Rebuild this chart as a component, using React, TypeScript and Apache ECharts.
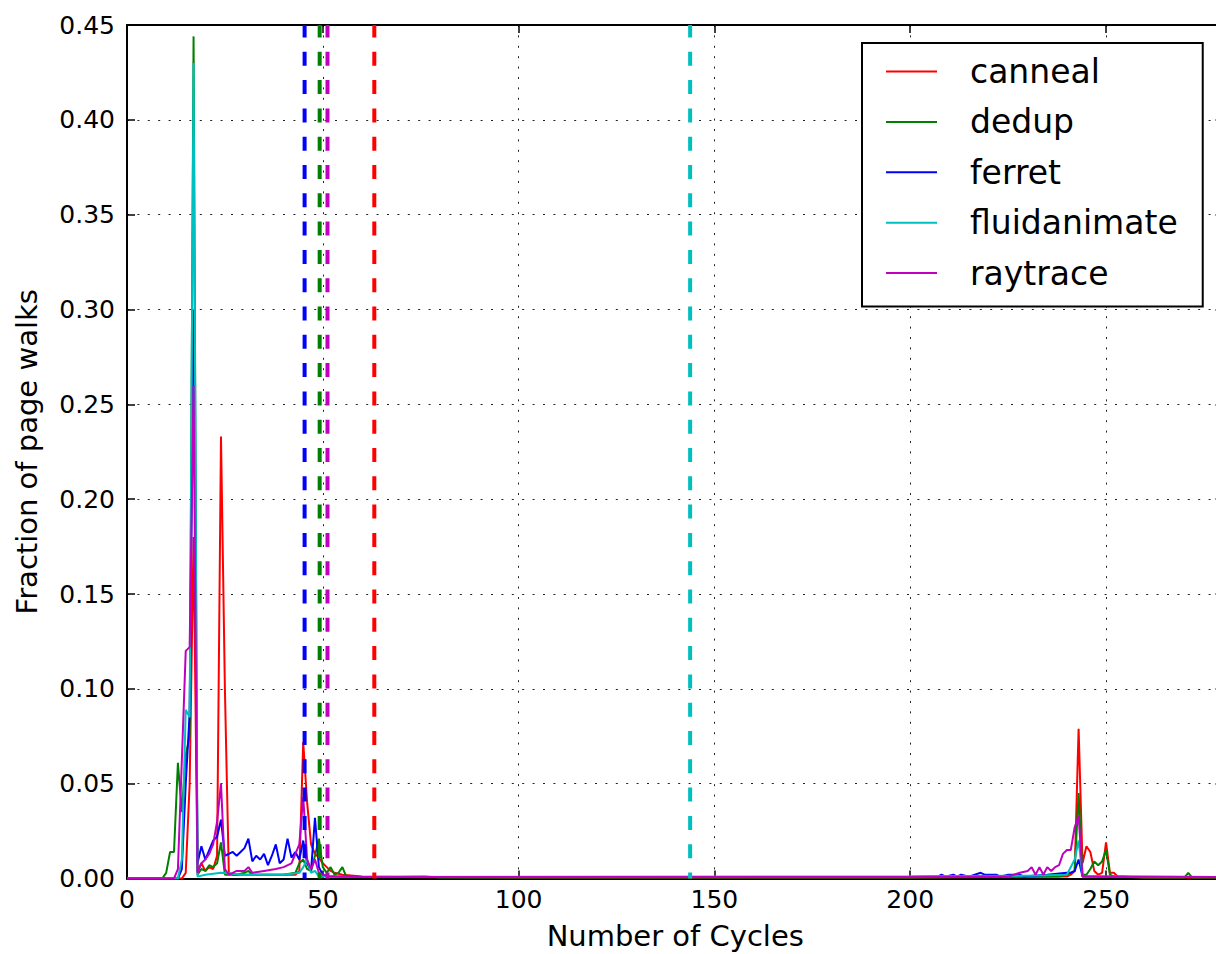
import React, { useEffect, useRef } from "react";
import * as echarts from "echarts";

const seriesNames = ["canneal", "dedup", "ferret", "fluidanimate", "raytrace"];
const seriesColors = ["#ff0000", "#008000", "#0000ff", "#00bfbf", "#bf00bf"];

const canneal = [
  [0, 0], [14, 0], [15, 0.003], [16, 0.05], [17, 0.18], [18, 0.004], [19, 0.008], [20, 0.004],
  [21, 0.006], [22, 0.005], [23, 0.012], [24, 0.233], [25, 0.1], [26, 0.003], [27, 0.002],
  [30, 0.002], [35, 0.002], [40, 0.002], [43, 0.002], [44, 0.004], [45, 0.072], [46, 0.04],
  [47, 0.018], [48, 0.013], [49, 0.011], [50, 0.008], [51, 0.006], [52, 0.004], [53, 0.003],
  [55, 0.002], [60, 0.001], [70, 0.0008], [100, 0.0005], [200, 0.0005], [230, 0.001],
  [240, 0.001], [241, 0.002], [242, 0.004], [243, 0.079], [244, 0.008], [245, 0.017],
  [246, 0.014], [247, 0.004], [248, 0.002], [249, 0.003], [250, 0.019], [251, 0.003],
  [252, 0.003], [253, 0.001], [260, 0.0005], [280, 0.0005],
];

const dedup = [
  [0, 0], [9, 0], [10, 0.003], [11, 0.014], [12, 0.014], [13, 0.061], [14, 0.035], [15, 0.065],
  [16, 0.075], [17, 0.444], [18, 0.002], [19, 0.005], [20, 0.004], [21, 0.007], [22, 0.006],
  [23, 0.008], [24, 0.019], [25, 0.002], [26, 0.002], [28, 0.002], [30, 0.003], [31, 0.004],
  [32, 0.002], [35, 0.002], [40, 0.002], [43, 0.003], [44, 0.008], [45, 0.01], [46, 0.005],
  [47, 0.004], [48, 0.012], [49, 0.021], [50, 0.006], [51, 0.003], [52, 0.006], [53, 0.002],
  [54, 0.003], [55, 0.006], [56, 0.001], [60, 0.0008], [76, 0.001], [80, 0.0005],
  [200, 0.0005], [238, 0.001], [240, 0.002], [241, 0.003], [242, 0.004], [243, 0.045],
  [244, 0.002], [245, 0.002], [246, 0.005], [247, 0.009], [248, 0.007], [249, 0.009],
  [250, 0.015], [251, 0.002], [252, 0.001], [260, 0.0005], [270, 0.0005], [271, 0.003],
  [272, 0.0005], [280, 0.0005],
];

const ferret = [
  [0, 0], [13, 0], [14, 0.005], [15, 0.05], [16, 0.087], [17, 0.3], [18, 0.008], [19, 0.017],
  [20, 0.01], [21, 0.015], [22, 0.02], [23, 0.022], [24, 0.031], [25, 0.012], [26, 0.013],
  [27, 0.014], [28, 0.012], [29, 0.014], [30, 0.016], [31, 0.021], [32, 0.009], [33, 0.012],
  [34, 0.01], [35, 0.013], [36, 0.007], [37, 0.012], [38, 0.018], [39, 0.008], [40, 0.01],
  [41, 0.021], [42, 0.011], [43, 0.014], [44, 0.01], [45, 0.02], [46, 0.008], [47, 0.004],
  [48, 0.032], [49, 0.006], [50, 0.002], [52, 0.001], [60, 0.0008], [200, 0.0008],
  [207, 0.001], [208, 0.002], [209, 0.001], [211, 0.002], [212, 0.001], [213, 0.002],
  [215, 0.001], [218, 0.003], [219, 0.002], [220, 0.002], [222, 0.002], [223, 0.001],
  [225, 0.002], [228, 0.002], [229, 0.001], [235, 0.002], [240, 0.003], [241, 0.003],
  [242, 0.004], [243, 0.01], [244, 0.001], [250, 0.0008], [280, 0.0008],
];

const fluidanimate = [
  [0, 0], [13, 0], [14, 0.01], [15, 0.089], [16, 0.085], [17, 0.43], [18, 0.001], [20, 0.002],
  [24, 0.003], [30, 0.002], [40, 0.002], [44, 0.003], [45, 0.006], [46, 0.01], [47, 0.003],
  [48, 0.004], [49, 0.001], [60, 0.0008], [200, 0.0012], [230, 0.0015], [240, 0.002],
  [242, 0.01], [243, 0.02], [244, 0.001], [250, 0.001], [280, 0.0008],
];

const raytrace = [
  [0, 0], [12, 0], [13, 0.005], [14, 0.062], [15, 0.12], [16, 0.122], [17, 0.26], [18, 0.003],
  [19, 0.008], [20, 0.01], [21, 0.013], [22, 0.018], [23, 0.03], [24, 0.05], [25, 0.005],
  [26, 0.002], [27, 0.003], [28, 0.004], [30, 0.004], [31, 0.006], [32, 0.003], [35, 0.004],
  [38, 0.005], [40, 0.006], [42, 0.008], [43, 0.013], [44, 0.018], [45, 0.043], [46, 0.01],
  [47, 0.005], [48, 0.01], [49, 0.003], [50, 0.002], [52, 0.001], [60, 0.0008],
  [200, 0.0008], [225, 0.001], [228, 0.003], [230, 0.004], [231, 0.006], [232, 0.002],
  [233, 0.006], [234, 0.002], [235, 0.006], [236, 0.004], [237, 0.006], [238, 0.007],
  [239, 0.013], [240, 0.015], [241, 0.015], [242, 0.027], [243, 0.033], [244, 0.001],
  [250, 0.001], [280, 0.0008],
];

const seriesData = [canneal, dedup, ferret, fluidanimate, raytrace];
const meanCycles = [63.15, 49.2, 45.35, 143.8, 51.2];

const X_MIN = 0;
const X_MAX = 280;
const X_INTERVAL = 50;
const Y_MIN = 0;
const Y_MAX = 0.45;
const Y_INTERVAL = 0.05;

const FONT = "DejaVu Sans";

export default function App() {
  const ref = useRef<HTMLDivElement>(null);

  useEffect(() => {
    document.body.style.margin = "0";
    const chart = echarts.init(ref.current as HTMLDivElement, null, { renderer: "svg" });

    const gridLine = { show: true, lineStyle: { color: "#222", width: 1, type: [2, 8.4] } };
    const axisLine = { show: true, onZero: false, lineStyle: { color: "#000", width: 2 } };
    const axisTick = { show: true, inside: true, length: 8, lineStyle: { color: "#000", width: 1.5 } };

    const curveSeries = seriesNames.map((name, i) => ({
      name,
      type: "line",
      data: seriesData[i],
      symbol: "none",
      showSymbol: false,
      lineStyle: { color: seriesColors[i], width: 2 },
      itemStyle: { color: seriesColors[i] },
      z: 2,
    }));

    const meanSeries = seriesNames.map((name, i) => ({
      name: name + " mean",
      type: "line",
      data: [
        [meanCycles[i], Y_MIN],
        [meanCycles[i], Y_MAX],
      ],
      symbol: "none",
      silent: true,
      lineStyle: { color: seriesColors[i], width: 4, type: [14, 14.3], dashOffset: 7.9 },
      z: 3,
    }));

    chart.setOption({
      animation: false,
      backgroundColor: "#ffffff",
      textStyle: { fontFamily: FONT },
      grid: {
        left: 127,
        top: 25,
        width: 1096.5,
        height: 853.5,
        containLabel: false,
        outerBoundsMode: "none",
      },
      legend: {
        data: seriesNames,
        orient: "vertical",
        left: 862,
        top: 43,
        padding: [12, 25, 17, 23],
        itemGap: 17.4,
        itemWidth: 51,
        itemHeight: 14,
        itemStyle: { opacity: 0 },
        borderColor: "#000",
        borderWidth: 2,
        borderRadius: 0,
        backgroundColor: "#ffffff",
        textStyle: {
          fontFamily: FONT,
          fontSize: 33,
          color: "#000",
          lineHeight: 33,
          padding: [0, 0, 0, 28],
        },
      },
      xAxis: [
        {
          type: "value",
          min: X_MIN,
          max: X_MAX,
          interval: X_INTERVAL,
          position: "bottom",
          name: "Number of Cycles",
          nameLocation: "middle",
          nameGap: 43,
          nameTextStyle: { fontFamily: FONT, fontSize: 29, lineHeight: 28, color: "#000" },
          axisLine,
          axisTick,
          axisLabel: {
            fontFamily: FONT,
            fontSize: 25,
            color: "#000",
            margin: 8,
            showMaxLabel: false,
          },
          splitLine: gridLine,
        },
        {
          type: "value",
          min: X_MIN,
          max: X_MAX,
          interval: X_INTERVAL,
          position: "top",
          axisLine,
          axisTick,
          axisLabel: { show: false },
          splitLine: { show: false },
        },
      ],
      yAxis: [
        {
          type: "value",
          min: Y_MIN,
          max: Y_MAX,
          interval: Y_INTERVAL,
          position: "left",
          name: "Fraction of page walks",
          nameLocation: "middle",
          nameGap: 86,
          nameRotate: 90,
          nameTextStyle: { fontFamily: FONT, fontSize: 29, color: "#000" },
          axisLine,
          axisTick,
          axisLabel: {
            fontFamily: FONT,
            fontSize: 25,
            color: "#000",
            margin: 12,
            formatter: (v: number) => v.toFixed(2),
          },
          splitLine: gridLine,
        },
        {
          type: "value",
          min: Y_MIN,
          max: Y_MAX,
          interval: Y_INTERVAL,
          position: "right",
          axisLine,
          axisTick,
          axisLabel: { show: false },
          splitLine: { show: false },
        },
      ],
      series: [...curveSeries, ...meanSeries],
    });

    return () => chart.dispose();
  }, []);

  return <div ref={ref} style={{ width: 1216, height: 954 }} />;
}
